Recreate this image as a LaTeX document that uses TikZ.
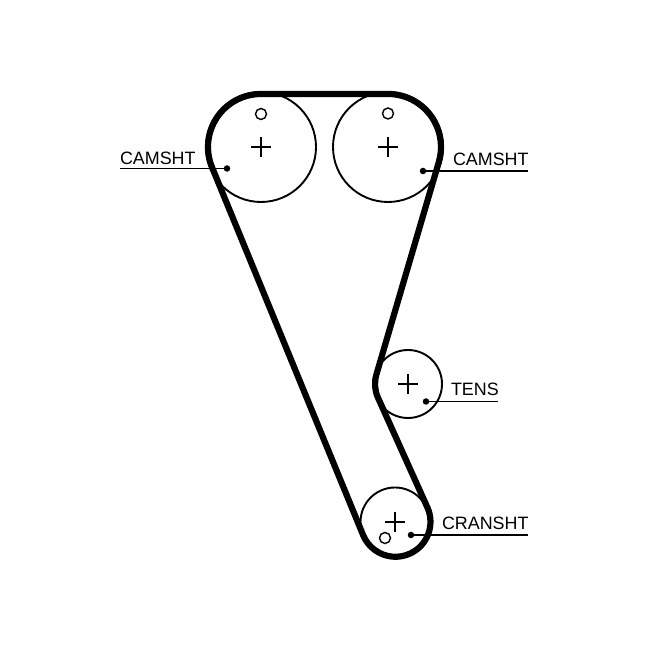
\documentclass[tikz,border=0pt]{standalone}
\usepackage{fontspec}
\setmainfont{Liberation Sans}
\tikzset{
  pulley/.style={circle,draw=black,line width=1.9pt,inner sep=0pt,outer sep=0pt,minimum size=#1},
  hole/.style={circle,draw=black,line width=1.4pt,inner sep=0pt,outer sep=0pt,minimum size=11pt},
  pin/.style={circle,fill=black,inner sep=0pt,outer sep=0pt,minimum size=6.5pt},
  belt/.style={line width=6.2pt,line join=round,black},
  leader/.style={line width=1.5pt,black},
  crossmark/.style={line width=1.9pt,black},
  tag/.style={anchor=base west,inner sep=0pt,outer sep=0pt,font=\fontsize{17.9pt}{20pt}\selectfont,text=black}
}
\begin{document}
\begin{tikzpicture}[x=1pt,y=1pt]
\useasboundingbox[fill=white] (0,0) rectangle (650,650);
% pulleys
\node[pulley=110pt] (camA) at (261,503) {};
\node[pulley=110pt] (camB) at (388,503) {};
\node[pulley=68pt] (tens) at (408,266) {};
\node[pulley=69pt] (crank) at (395,128) {};
% timing holes
\node[hole] (holeA) at (261,536) {};
\node[hole] (holeB) at (388,536.5) {};
\node[hole] (holeC) at (385,112) {};
% centre crosses
\foreach \c in {camA,camB,tens,crank}{
  \draw[crossmark] (\c.center) +(-10,0) -- +(10,0);
  \draw[crossmark] (\c.center) +(0,-10) -- +(0,10);
}
% belt
\draw[belt] (261,556)
  -- (388,556)
  arc[start angle=90,end angle=-16.5,radius=53]
  -- (376.36,275.38)
  arc[start angle=163.5,end angle=204.2,radius=33]
  -- (427.38,142.57)
  arc[start angle=24.2,end angle=-157.74,radius=35]
  -- (211.95,482.92)
  arc[start angle=202.26,end angle=90,radius=53]
  -- cycle;
% pins and leaders
\node[pin] (pinA) at (227,481.5) {};
\node[pin] (pinB) at (423,479) {};
\node[pin] (pinT) at (426,248.5) {};
\node[pin] (pinC) at (411,115) {};
\coordinate (endA) at (120,481.5);
\coordinate (endB) at (528,479);
\coordinate (endT) at (498,248.5);
\coordinate (endC) at (528,115);
\draw[leader] (pinA.center) -- (endA);
\draw[leader] (pinB.center) -- (endB);
\draw[leader] (pinT.center) -- (endT);
\draw[leader] (pinC.center) -- (endC);
% labels
\node[tag] (lblA) at (120,485) {CAMSHT};
\node[tag] (lblB) at (453,484) {CAMSHT};
\node[tag] (lblT) at (451,254) {TENS};
\node[tag] (lblC) at (442,120) {CRANSHT};
\end{tikzpicture}
\end{document}
